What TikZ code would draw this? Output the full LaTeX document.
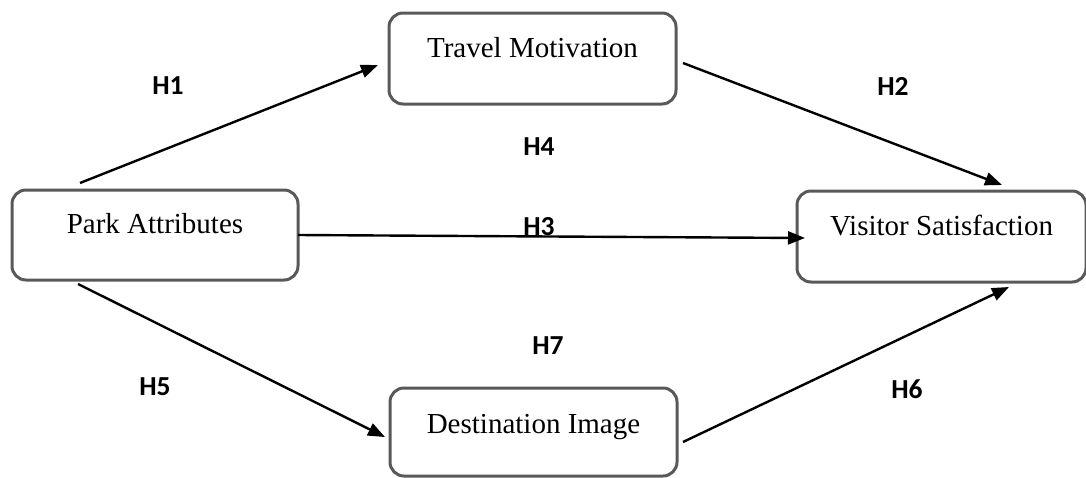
\documentclass[tikz,border=0pt]{standalone}
\usepackage{fontspec}
\setmainfont{Liberation Serif}
\newfontfamily\labfont{Carlito}
\usetikzlibrary{arrows.meta,calc}
\definecolor{boxgray}{RGB}{89,89,89}
\tikzset{
  box/.style={draw=boxgray, line width=3pt, rounded corners=14pt, inner sep=0pt, outer sep=0pt,
    font=\fontsize{29}{32}\selectfont, anchor=base},
  arr/.style={draw=black, line width=2.4pt, -{Triangle[length=17pt,width=13pt]}},
  hlab/.style={font=\labfont\bfseries\fontsize{27.5}{30}\selectfont, inner sep=0pt}
}
\begin{document}
\begin{tikzpicture}[x=1pt,y=-1pt]
\useasboundingbox (0,0) rectangle (1086,477);
\node[box, minimum width=286pt, text height=43pt, text depth=47pt] (park) at (155,233) {Park Attributes};
\node[box, minimum width=287pt, text height=44pt, text depth=47pt] (travel) at (532.5,57) {Travel Motivation};
\node[box, minimum width=289pt, text height=44pt, text depth=47pt] (visitor) at (941.5,235) {Visitor Satisfaction};
\node[box, minimum width=287pt, text height=45pt, text depth=43pt] (dest) at (533.5,433) {Destination Image};

\draw[arr] ($(park.north)+(-75,-7)$) -- ($(travel.west)+(-11,6.5)$);
\draw[arr] ($(travel.east)+(7,4.5)$) -- ($(visitor.north)+(60.5,-6)$);
\draw[arr] (park.east) -- ($(visitor.west)+(8,1.5)$);
\draw[arr] ($(park.south)+(-77,4)$) -- ($(dest.west)+(-5,5)$);
\draw[arr] ($(dest.east)+(6,10)$) -- ($(visitor.south)+(67.5,5)$);

\node[hlab] (h1) at (168,86) {H1};
\node[hlab] (h2) at (893,86) {H2};
\node[hlab] (h4) at (539,147) {H4};
\node[hlab] (h3) at (539,227) {H3};
\node[hlab] (h7) at (548,346) {H7};
\node[hlab] (h5) at (155,387) {H5};
\node[hlab] (h6) at (907,389) {H6};
\end{tikzpicture}
\end{document}
